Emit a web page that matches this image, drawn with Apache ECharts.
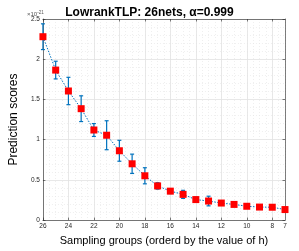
<!DOCTYPE html>
<html><head><meta charset="utf-8">
<script src="https://cdn.jsdelivr.net/npm/echarts@6/dist/echarts.min.js"></script>
<style>html,body{margin:0;padding:0;background:#fff}#c{width:299px;height:251px}</style>
</head><body><div id="c"></div>
<script>
const groups = [26,25,24,23,22,21,20,19,18,17,16,15,14,13,12,11,10,9,8,7];
const scores = [2.28,1.865,1.605,1.385,1.12,1.055,0.862,0.70,0.551,0.425,0.36,0.32,0.255,0.237,0.212,0.195,0.172,0.162,0.16,0.131];
const errors = [0.16,0.11,0.17,0.16,0.08,0.18,0.13,0.12,0.10,0.04,0.03,0.05,0.03,0.06,0.025,0.02,0.015,0.015,0.015,0.012];
const xTickLabels = [26,24,22,20,18,16,14,12,10,8,7];
const xMajorTicks = [26,24,22,20,18,16,14,12,10,8];
const yTickLabels = [0,0.5,1,1.5,2,2.5];

const FONT = '"Liberation Sans", Arial, Helvetica, sans-serif';
const AX = '#262626';
const BLUE = '#0072BD';

const linePts = groups.map((g,i)=>[g,scores[i]]);
const errPts = groups.map((g,i)=>[g,scores[i]-errors[i],scores[i]+errors[i]]);

const chart = echarts.init(document.getElementById('c'), null, {renderer:'canvas'});
const baseX = {type:'value', inverse:true, min:7, max:26};
chart.setOption({
  animation:false,
  backgroundColor:'#fff',
  title:{text:'LowrankTLP: 26nets, \u03b1=0.999', left:'center', top:2,
    textStyle:{fontFamily:FONT, fontSize:12, fontWeight:'bold', color:'#000'}},
  grid:{left:25, right:14, top:19, bottom:28, containLabel:false},
  graphic:[{type:'text', left:27, top:10, style:{rich:{a:{fontSize:6,fill:'#555',fontFamily:FONT},b:{fontSize:4.5,fill:'#555',fontFamily:FONT, verticalAlign:'top', padding:[0,0,3,0]}}, text:'{a|\u00d710}{b|-21}'}}],
  xAxis:[
    Object.assign({}, baseX, {position:'bottom', interval:1,
      name:'Sampling groups (orderd by the value of h)', nameLocation:'middle', nameGap:14,
      nameTextStyle:{fontFamily:FONT, fontSize:11, color:'#000'},
      axisLine:{show:true, onZero:false, lineStyle:{color:AX, width:0.6}},
      axisTick:{show:true, inside:true, length:2.5, customValues:xMajorTicks, lineStyle:{color:AX, width:0.6}},
      axisLabel:{customValues:xTickLabels, fontFamily:FONT, fontSize:6.5, color:AX, margin:3},
      splitLine:{show:true, lineStyle:{color:'#e2e2e2', width:0.8}}}),
    Object.assign({}, baseX, {position:'top', interval:1,
      axisLine:{show:true, onZero:false, lineStyle:{color:AX, width:0.6}},
      axisTick:{show:true, inside:true, length:2.5, customValues:xMajorTicks, lineStyle:{color:AX, width:0.6}},
      axisLabel:{show:false}, splitLine:{show:false}}),
    Object.assign({}, baseX, {position:'bottom', interval:0.5,
      axisLine:{show:false}, axisTick:{show:false}, axisLabel:{show:false},
      splitLine:{show:true, lineStyle:{color:'#e4e4e4', width:0.6, type:[1,2]}}})
  ],
  yAxis:[
    {type:'value', min:0, max:2.5, interval:0.5, position:'left',
      name:'Prediction scores', nameLocation:'middle', nameGap:14,
      nameTextStyle:{fontFamily:FONT, fontSize:12, color:'#000'},
      axisLine:{show:true, onZero:false, lineStyle:{color:AX, width:0.6}},
      axisTick:{show:true, inside:true, length:2.5, lineStyle:{color:AX, width:0.6}},
      axisLabel:{fontFamily:FONT, fontSize:6.5, color:AX, margin:3,
        customValues:yTickLabels, formatter:v=>String(v)},
      splitLine:{show:true, lineStyle:{color:'#e2e2e2', width:0.8}},
      minorTick:{show:false, splitNumber:5},
      minorSplitLine:{show:true, lineStyle:{color:'#e4e4e4', width:0.6, type:[1,2]}}},
    {type:'value', min:0, max:2.5, interval:0.5, position:'right',
      axisLine:{show:true, onZero:false, lineStyle:{color:AX, width:0.6}},
      axisTick:{show:true, inside:true, length:2.5, lineStyle:{color:AX, width:0.6}},
      axisLabel:{show:false}, splitLine:{show:false}}
  ],
  series:[
    {type:'line', data:linePts, symbol:'none', z:2,
      lineStyle:{color:BLUE, width:1, type:[1.5,1.5]}},
    {type:'custom', data:errPts, encode:{x:0, y:[1,2]}, z:3,
      renderItem:function(params, api){
        const x = api.value(0);
        const lo = api.coord([x, api.value(1)]);
        const hi = api.coord([x, api.value(2)]);
        const w = 2;
        const st = {stroke:BLUE, lineWidth:1.2};
        return {type:'group', children:[
          {type:'line', shape:{x1:lo[0], y1:lo[1], x2:hi[0], y2:hi[1]}, style:st},
          {type:'line', shape:{x1:lo[0]-w, y1:lo[1], x2:lo[0]+w, y2:lo[1]}, style:st},
          {type:'line', shape:{x1:hi[0]-w, y1:hi[1], x2:hi[0]+w, y2:hi[1]}, style:st}
        ]};
      }},
    {type:'scatter', data:linePts, symbol:'rect', symbolSize:7, z:4,
      itemStyle:{color:'#ff0000', opacity:1}}
  ]
});
</script></body></html>
